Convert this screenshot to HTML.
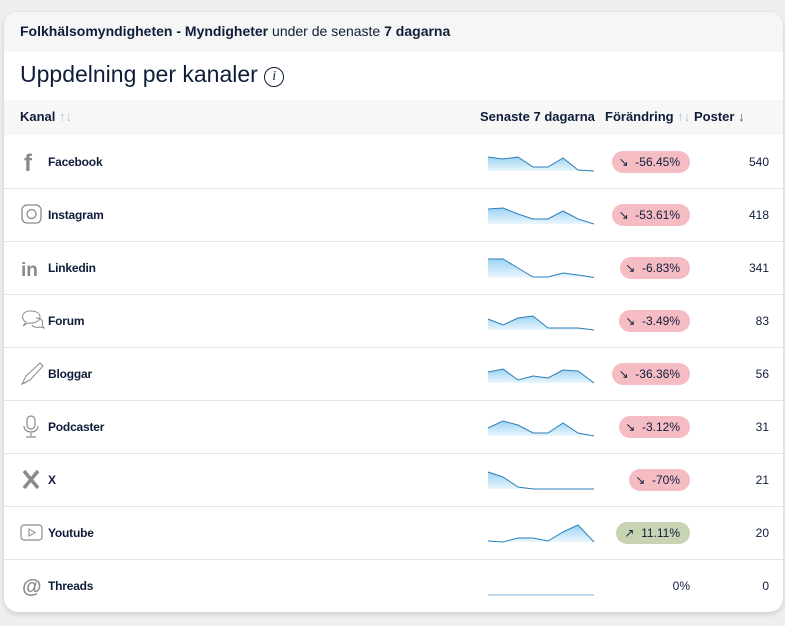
<!DOCTYPE html>
<html><head><meta charset="utf-8"><style>
body{margin:0;width:785px;height:626px;background:#efefef;font-family:"Liberation Sans",Roboto,sans-serif;color:#0f1d3a;position:relative;overflow:hidden}
.card{position:absolute;left:4px;top:12px;width:779px;height:600px;background:#fff;border-radius:14px;box-shadow:0 2px 6px rgba(0,0,0,.15);overflow:hidden}
.top{position:absolute;left:0;top:0;width:100%;height:40px;background:#f6f6f6}
.t{position:absolute;white-space:nowrap}
.hd{position:absolute;left:0;top:88px;width:100%;height:35px;background:#f7f7f7}
.pill{position:absolute;height:22px;border-radius:11px;background:#f6bcc3;font-size:12px;line-height:22px;text-align:right;padding-right:10px;box-sizing:border-box;right:95px}
.lbl{font-size:12px;font-weight:bold;left:44px;letter-spacing:-0.2px}
.num{font-size:12px;right:14px;font-weight:500}
</style></head><body>
<div class="card">
<div class="top"></div>
<div class="t" style="left:16px;top:11px;font-size:14px"><b>Folkhälsomyndigheten - Myndigheter</b> under de senaste <b>7 dagarna</b></div>
<div class="t" style="left:16px;top:49px;font-size:23px">Uppdelning per kanaler <span style="display:inline-block;width:18px;height:18px;border:1.5px solid #0f1d3a;border-radius:50%;font-size:14px;line-height:18px;text-align:center;font-family:'Liberation Serif',serif;font-style:italic;vertical-align:2px">i</span></div>
<div class="hd"></div>
<div class="t" style="left:16px;top:97px;font-size:13px;font-weight:bold">Kanal <span style="color:#a9c2df;font-weight:normal">↑↓</span></div>
<div class="t" style="left:476px;top:97px;font-size:13px;font-weight:bold">Senaste 7 dagarna</div>
<div class="t" style="left:601px;top:97px;font-size:13px;font-weight:bold">Förändring <span style="color:#a9c2df;font-weight:normal">↑↓</span></div>
<div class="t" style="left:690px;top:97px;font-size:13px;font-weight:bold">Poster <span style="font-weight:normal;color:#555">↓</span></div>
</div>
<svg width="785" height="626" style="position:absolute;left:0;top:0">
<defs><linearGradient id="g" x1="0" y1="0" x2="0" y2="1"><stop offset="0" stop-color="#9dd3f3"/><stop offset="1" stop-color="#eaf6fd"/></linearGradient></defs>
<g stroke="#e4e4e4" stroke-width="1">
<line x1="4" x2="783" y1="188.5" y2="188.5"/><line x1="4" x2="783" y1="241.5" y2="241.5"/><line x1="4" x2="783" y1="294.5" y2="294.5"/><line x1="4" x2="783" y1="347.5" y2="347.5"/><line x1="4" x2="783" y1="400.5" y2="400.5"/><line x1="4" x2="783" y1="453.5" y2="453.5"/><line x1="4" x2="783" y1="506.5" y2="506.5"/><line x1="4" x2="783" y1="559.5" y2="559.5"/>
</g>
<g fill="url(#g)" stroke="#2b7fb8" stroke-width="1">
<path d="M488,157 L503,159 518,157 533,167 548,167 563,158 578,170 594,171 L594,171 488,171Z" stroke="none"/><path d="M488,157 L503,159 518,157 533,167 548,167 563,158 578,170 594,171" fill="none"/>
<path d="M488,209 L503,208 518,214 533,219 548,219 563,211 578,219 594,224 L594,224 488,224Z" stroke="none"/><path d="M488,209 L503,208 518,214 533,219 548,219 563,211 578,219 594,224" fill="none"/>
<path d="M488,259 L503,259 518,268 533,277 548,277 563,273 578,275 594,277.5 L594,277.5 488,277.5Z" stroke="none"/><path d="M488,259 L503,259 518,268 533,277 548,277 563,273 578,275 594,277.5" fill="none"/>
<path d="M488,319 L503,325 518,318 533,316 548,328 563,328 578,328 594,330 L594,330 488,330Z" stroke="none"/><path d="M488,319 L503,325 518,318 533,316 548,328 563,328 578,328 594,330" fill="none"/>
<path d="M488,372 L503,369 518,380 533,376 548,378 563,370 578,371 594,383 L594,383 488,383Z" stroke="none"/><path d="M488,372 L503,369 518,380 533,376 548,378 563,370 578,371 594,383" fill="none"/>
<path d="M488,428 L503,421 518,425 533,433 548,433 563,423 578,433 594,436 L594,436 488,436Z" stroke="none"/><path d="M488,428 L503,421 518,425 533,433 548,433 563,423 578,433 594,436" fill="none"/>
<path d="M488,472 L503,477 518,487 533,489 548,489 563,489 578,489 594,489 L594,489 488,489Z" stroke="none"/><path d="M488,472 L503,477 518,487 533,489 548,489 563,489 578,489 594,489" fill="none"/>
<path d="M488,541 L503,542 518,538 533,538 548,541 563,532 578,525 594,542 L594,542 488,542Z" stroke="none"/><path d="M488,541 L503,542 518,538 533,538 548,541 563,532 578,525 594,542" fill="none"/>
<path d="M488,595 L594,595" fill="none" stroke="#7fb3d4"/>
</g>
<g fill="#8a8a8a" stroke="#8a8a8a">
<text x="24" y="171" font-size="24" font-weight="bold" stroke="none" font-family="Liberation Sans">f</text>
<rect x="22" y="205" width="19" height="18" rx="5" fill="none" stroke-width="1.3"/><circle cx="31.5" cy="214" r="4.5" fill="none" stroke-width="1.3"/>
<text x="21" y="276" font-size="19" font-weight="bold" stroke="none" font-family="Liberation Sans">in</text>
<path d="M30,311 c-8,0 -10,8 -4,11 l-3,4 5,-3 c6,1 12,-2 12,-6 c0,-4 -4,-6 -10,-6z" fill="none" stroke-width="1"/>
<path d="M36,318 c5,0 8,3 6,7 l2,3 -4,-1 c-3,1 -7,0 -8,-2" fill="none" stroke-width="1"/>
<path d="M22,384 L26,376 L40,363 L43,366 L30,380 Z M22,384 l5,-2" fill="none" stroke-width="1"/>
<rect x="27" y="416" width="8" height="13" rx="4" fill="none" stroke-width="1.2"/><path d="M24,426 c0,8 14,8 14,0 M31,433 v3 M26,437 h10" fill="none" stroke-width="1.2"/>
<path d="M24,471 L38,488 M38,471 L24,488" stroke-width="3.5"/>
<rect x="21" y="525" width="21" height="15" rx="3" fill="none" stroke-width="1.2"/><path d="M29,529 l6,3.5 -6,3.5z" fill="none" stroke-width="1"/>
<text x="22" y="593" font-size="20" stroke="none" font-family="Liberation Sans" font-weight="bold">@</text>
</g>
</svg>
<div class="t lbl" style="left:48px;top:155px">Facebook</div>
<div class="t lbl" style="left:48px;top:208px">Instagram</div>
<div class="t lbl" style="left:48px;top:261px">Linkedin</div>
<div class="t lbl" style="left:48px;top:314px">Forum</div>
<div class="t lbl" style="left:48px;top:367px">Bloggar</div>
<div class="t lbl" style="left:48px;top:420px">Podcaster</div>
<div class="t lbl" style="left:48px;top:473px">X</div>
<div class="t lbl" style="left:48px;top:526px">Youtube</div>
<div class="t lbl" style="left:48px;top:579px">Threads</div>

<div class="pill" style="top:151px;width:78px">↘&nbsp; -56.45%</div>
<div class="pill" style="top:204px;width:78px">↘&nbsp; -53.61%</div>
<div class="pill" style="top:257px;width:70px">↘&nbsp; -6.83%</div>
<div class="pill" style="top:310px;width:71px">↘&nbsp; -3.49%</div>
<div class="pill" style="top:363px;width:78px">↘&nbsp; -36.36%</div>
<div class="pill" style="top:416px;width:71px">↘&nbsp; -3.12%</div>
<div class="pill" style="top:469px;width:61px">↘&nbsp; -70%</div>
<div class="pill" style="top:522px;width:74px;background:#c8d3b3">↗&nbsp; 11.11%</div>
<div class="t" style="right:95px;top:579px;font-size:12px">0%</div>

<div class="t num" style="right:16px;top:155px">540</div>
<div class="t num" style="right:16px;top:208px">418</div>
<div class="t num" style="right:16px;top:261px">341</div>
<div class="t num" style="right:16px;top:314px">83</div>
<div class="t num" style="right:16px;top:367px">56</div>
<div class="t num" style="right:16px;top:420px">31</div>
<div class="t num" style="right:16px;top:473px">21</div>
<div class="t num" style="right:16px;top:526px">20</div>
<div class="t num" style="right:16px;top:579px">0</div>
</body></html>
